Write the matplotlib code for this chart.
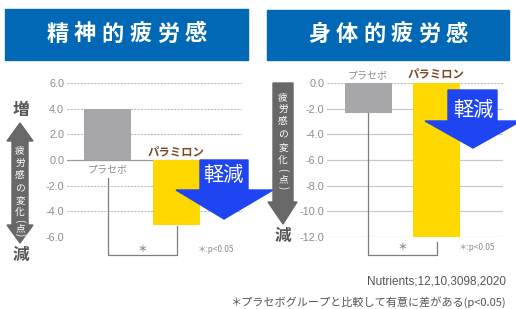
import matplotlib
matplotlib.use('Agg')
import matplotlib.pyplot as plt
from matplotlib.patches import Polygon, Rectangle

plt.rcParams['font.family'] = ['Liberation Sans', 'Noto Sans CJK JP']
JP = ['Noto Sans CJK JP', 'DejaVu Sans']

# data
groups = ['プラセボ', 'パラミロン']
mental = [4.0, -5.1]      # 精神的疲労感
physical = [-2.3, -12.0]  # 身体的疲労感
mental_ticks = [6.0, 4.0, 2.0, 0.0, -2.0, -4.0, -6.0]
physical_ticks = [0.0, -2.0, -4.0, -6.0, -8.0, -10.0, -12.0]
titles = ['精神的疲労感', '身体的疲労感']
ylabel_chars = list('疲労感の変化') + ['(', '点', ')']

W, H = 516, 309
GRAY_BAR = '#a7a7a9'
YELLOW = '#ffd800'
BLUE_T = '#0068b5'
BLUE_A = '#1f44f2'
BROWN = '#7a4a26'
DARK = '#686868'

fig = plt.figure(figsize=(W / 100, H / 100), dpi=100)


def px(x, y):
    return (x / W, 1 - y / H)


def add_axes(x0, x1, y0, y1):
    return fig.add_axes([x0 / W, 1 - y1 / H, (x1 - x0) / W, (y1 - y0) / H])


def style_axes(ax, ticks, dashed_except_zero):
    ax.set_yticks(ticks)
    ax.set_yticklabels([f'{t:.1f}' for t in ticks])
    ax.tick_params(axis='y', length=0, pad=2, labelsize=7.8, labelcolor='#8c8c8c')
    ax.set_xticks([])
    for s in ax.spines.values():
        s.set_visible(False)
    for t in ticks:
        if dashed_except_zero and t != 0:
            ax.axhline(t, color='#bdbdbd', lw=0.8, ls=(0, (2, 1)), zorder=0)
        elif not dashed_except_zero and t == 0:
            ax.axhline(t, color='#bdbdbd', lw=0.8, ls=(0, (2, 1)), zorder=0)
        else:
            ax.axhline(t, color='#c8c8c8' if t != 0 else '#9a9a9a', lw=0.9, zorder=0)


# ---- left panel: 精神的疲労感
ax1 = add_axes(67, 242, 83, 237)
ax1.set_ylim(-6, 6)
ax1.set_xlim(-0.587, 1.949)
style_axes(ax1, mental_ticks, True)
ax1.bar([0, 1], mental, width=0.68, color=[GRAY_BAR, YELLOW], zorder=2)
ax1.text(0, -0.7, groups[0], ha='center', va='center', fontsize=7.2,
         color='#8c8c8c', family=JP)
ax1.text(1, 0.62, groups[1], ha='center', va='center', fontsize=8.2,
         color=BROWN, family=JP, fontweight='bold')
ax1.plot([0, 0, 1, 1], [-1.4, -7.4, -7.4, mental[1] - 0.05], color='#7d7d7d',
         lw=0.9, clip_on=False)
ax1.text(0.5, -6.95, '＊', ha='center', va='center', fontsize=7,
         color='#8c8c8c', family=JP, fontweight='bold')
ax1.text(1.57, -7.0, '＊:p<0.05', ha='center', va='center', fontsize=6,
         color='#8c8c8c', family=JP)

# ---- right panel: 身体的疲労感
ax2 = add_axes(327, 503, 83, 237)
ax2.set_ylim(-12, 0)
ax2.set_xlim(-0.599, 1.971)
style_axes(ax2, physical_ticks, False)
ax2.bar([0, 1], physical, width=0.686, color=[GRAY_BAR, YELLOW], zorder=2)
ax2.text(0, 0.62, groups[0], ha='center', va='center', fontsize=7.2,
         color='#8c8c8c', family=JP)
ax2.text(1, 0.70, groups[1], ha='center', va='center', fontsize=8.2,
         color=BROWN, family=JP, fontweight='bold')
ax2.plot([0, 0, 1, 1], [physical[0], -13.4, -13.4, -12.4], color='#7d7d7d',
         lw=0.9, clip_on=False)
ax2.text(0.5, -12.75, '＊', ha='center', va='center', fontsize=7,
         color='#8c8c8c', family=JP, fontweight='bold')
ax2.text(1.59, -12.8, '＊:p<0.05', ha='center', va='center', fontsize=6,
         color='#8c8c8c', family=JP)

# ---- title boxes
for (x0, x1, y0, y1), title in zip([(5, 248, 9, 60), (267, 509, 10, 60)], titles):
    fig.patches.append(Rectangle(px(x0, y1), (x1 - x0) / W, (y1 - y0) / H,
                                 transform=fig.transFigure, color=BLUE_T, zorder=1))
    cx = (x0 + x1) / 2
    for i, ch in enumerate(title):
        fig.text(*px(cx + (i - 2.5) * 27.5, (y0 + y1) / 2 - 0.5), ch, ha='center',
                 va='center', fontsize=16, color='white', fontweight='bold', family=JP)


def poly(pts, color, z=10):
    fig.patches.append(Polygon([px(x, y) for x, y in pts], closed=True,
                               transform=fig.transFigure, color=color, zorder=z))


# blue 軽減 arrows
poly([(200, 160), (248, 160), (248, 190), (273, 190), (224, 219), (176, 190), (200, 190)], BLUE_A)
fig.text(*px(223, 175), '軽減', ha='center', va='center', fontsize=14.5,
         color='white', family=JP, zorder=11)
poly([(448, 90), (497, 90), (497, 121), (521, 121), (473, 148), (425, 121), (448, 121)], BLUE_A)
fig.text(*px(473, 110), '軽減', ha='center', va='center', fontsize=14.5,
         color='white', family=JP, zorder=11)

# gray y-label arrows
poly([(20, 123), (33, 141), (28, 141), (28, 225), (33, 225), (20, 243), (7, 225),
      (12, 225), (12, 141), (7, 141)], DARK)
poly([(273, 83), (293, 83), (293, 202), (297, 202), (283, 224), (268, 202), (273, 202)], DARK)


def vlabel(x, ys, size):
    for ch, y in zip(ylabel_chars, ys):
        rot = -90 if ch in '()' else 0
        fig.text(*px(x, y), ch, ha='center', va='center', fontsize=size,
                 color='white', family=JP, rotation=rot, zorder=12)


vlabel(20, [150, 163, 175, 188, 200, 212, 221, 228, 235], 7)
vlabel(283, [97, 109, 121, 134, 147, 160, 170, 179, 188], 7)

fig.text(*px(21, 110), '増', ha='center', va='center', fontsize=12,
         color='#555555', fontweight='bold', family=JP)
fig.text(*px(21, 255), '減', ha='center', va='center', fontsize=12,
         color='#555555', fontweight='bold', family=JP)
fig.text(*px(283, 236), '減', ha='center', va='center', fontsize=12,
         color='#555555', fontweight='bold', family=JP)

# footnotes
fig.text(*px(506, 282), 'Nutrients;12,10,3098,2020', ha='right', va='center',
         fontsize=8.5, color='#555555')
fig.text(*px(506, 302), '＊プラセボグループと比較して有意に差がある(p<0.05)', ha='right',
         va='center', fontsize=8, color='#555555', family=JP)

fig.savefig('out.png', dpi=100)
